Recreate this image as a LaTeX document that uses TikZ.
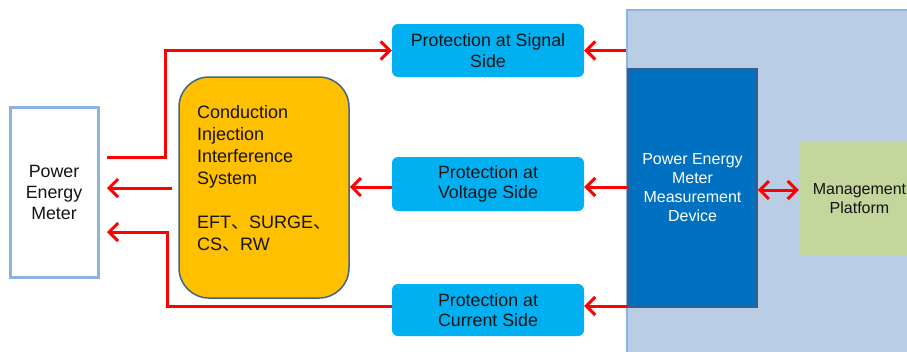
\documentclass[tikz,border=0pt]{standalone}
\usepackage{fontspec}
\setmainfont{Liberation Sans}
\newfontfamily\cjk{Noto Sans CJK SC}
\usetikzlibrary{arrows.meta}
\definecolor{pemline}{RGB}{141,179,226}
\definecolor{cisfill}{RGB}{255,192,0}
\definecolor{cisline}{RGB}{65,100,140}
\definecolor{protfill}{RGB}{0,176,240}
\definecolor{bgfill}{RGB}{185,205,229}
\definecolor{devfill}{RGB}{0,112,192}
\definecolor{devline}{RGB}{56,93,138}
\definecolor{mgmtfill}{RGB}{195,214,155}
\definecolor{txt}{RGB}{20,20,20}
\begin{document}
\begin{tikzpicture}[x=1pt,y=-1pt,
  prot/.style={rectangle, rounded corners=6pt, fill=protfill, minimum width=192pt,
    align=center, text=txt, inner sep=0pt, font=\fontsize{17.8}{20.5}\selectfont},
  redline/.style={draw=red, line width=3pt},
  arr/.style={redline, -{Straight Barb[length=9pt,width=18pt]}},
  darr/.style={redline, {Straight Barb[length=9pt,width=18pt]}-{Straight Barb[length=9pt,width=18pt]}}]
\useasboundingbox (0,0) rectangle (907,351);
\clip (0,0) rectangle (907,351);
% right background
\node[rectangle, fill=bgfill, draw=pemline, line width=1.5pt, minimum width=300pt, minimum height=360pt, inner sep=0pt] (bg) at (777,190) {};
% power energy meter
\node[rectangle, draw=pemline, line width=3pt, fill=white, minimum width=88pt, minimum height=170pt, align=center, text=txt, inner sep=0pt, font=\fontsize{17.8}{21}\selectfont] (pem) at (54,192) {Power\\Energy\\Meter};
% conduction injection interference system
\node[rectangle, rounded corners=30pt, fill=cisfill, draw=cisline, line width=1.5pt, minimum width=170pt, minimum height=221pt, inner sep=0pt] (cis) at (264,187.5) {};
\node[anchor=north west, align=left, inner sep=0pt, text=txt, font=\fontsize{18}{22}\selectfont] (cistext) at (197,105) {Conduction\\Injection\\Interference\\System\\[22pt]EFT{\cjk 、}SURGE{\cjk 、}\\CS{\cjk 、}RW};
% protection boxes
\node[prot, minimum height=53pt] (sig) at (488,50.5) {Protection at Signal\\Side};
\node[prot, minimum height=54pt] (vol) at (488,184) {Protection at\\Voltage Side};
\node[prot, minimum height=52pt] (cur) at (488,310) {Protection at\\Current Side};
% measurement device
\node[rectangle, fill=devfill, draw=devline, line width=1.5pt, minimum width=129pt, minimum height=238pt, align=center, text=white, inner sep=0pt, font=\fontsize{16}{19}\selectfont] (dev) at (692.5,188) {Power Energy\\Meter\\Measurement\\Device};
% management platform
\node[rectangle, fill=mgmtfill, minimum width=121pt, minimum height=113pt, align=center, text=txt, inner sep=0pt, font=\fontsize{16}{19}\selectfont] (mgmt) at (859.5,198.5) {Management\\Platform};
% connector anchor points
\coordinate (pemTop) at (107,157);
\coordinate (pemMid) at (107,188);
\coordinate (pemBot) at (107,232);
\coordinate (cisOut) at (172,188);
% arrows
\draw[arr] (bg.west |- sig.east) -- (sig.east);
\draw[arr] (pemTop) -- (165,157) |- (sig.west);
\draw[arr] (dev.west |- 0,187) -- (vol.east |- 0,187);
\draw[arr] (vol.west |- 0,187) -- (cis.east |- 0,187);
\draw[arr] (cisOut) -- (pemMid);
\draw[arr] (dev.west |- 0,306) -- (cur.east |- 0,306);
\draw[arr] (cur.west |- 0,306) -| (167,232) -- (pemBot);
\draw[darr] (dev.east |- 0,190) -- (mgmt.west |- 0,190);
\end{tikzpicture}
\end{document}
